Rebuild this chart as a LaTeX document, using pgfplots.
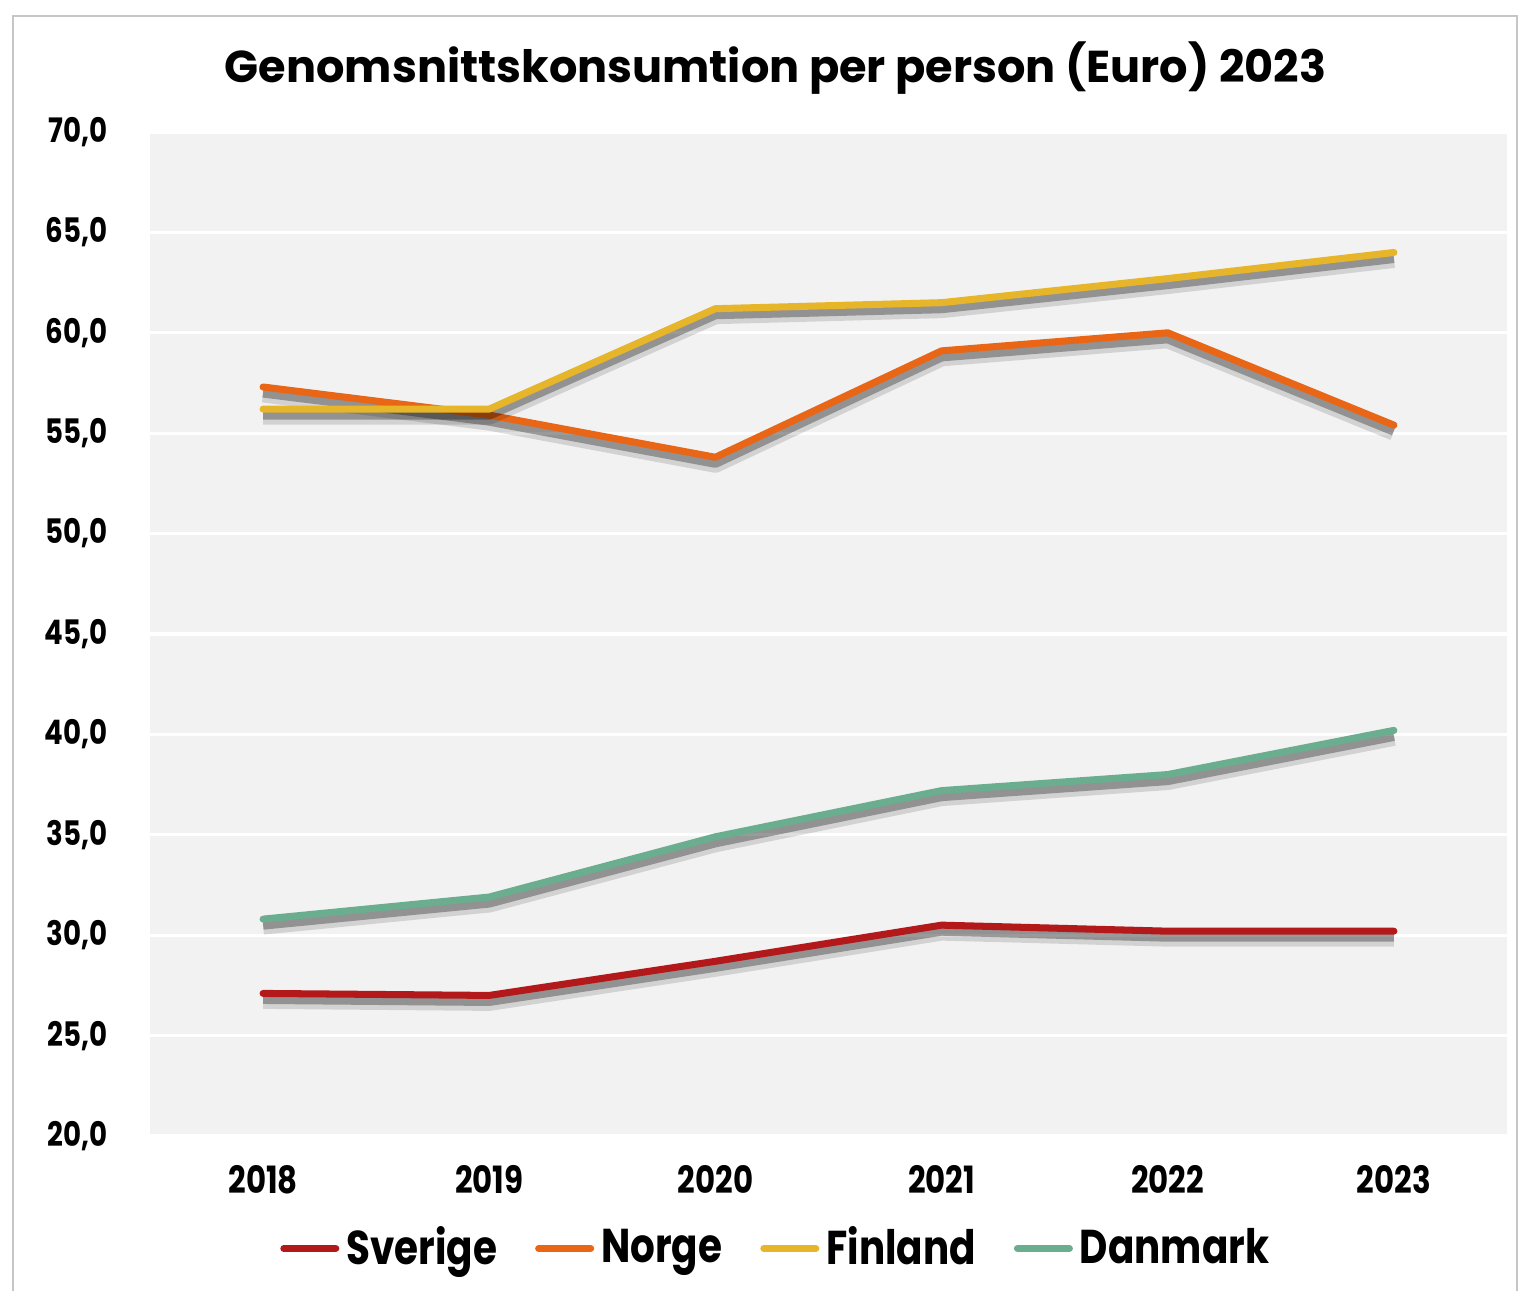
\documentclass[border=0pt]{standalone}
\usepackage{fontspec}
\setmainfont{Poppins}
\newfontfamily\condfont[FakeStretch=0.82]{Poppins}
\usepackage{pgfplots}
\pgfplotsset{compat=1.18}

\definecolor{bgray}{HTML}{F2F2F2}
\definecolor{cSverige}{HTML}{B3191A}
\definecolor{cNorge}{HTML}{E86615}
\definecolor{cFinland}{HTML}{E6B52A}
\definecolor{cDanmark}{HTML}{6AAE8F}

\pgfplotstableread{
x Sverige Norge Finland Danmark
0 27.1 57.3 56.2 30.8
1 27.0 55.9 56.2 31.9
2 28.7 53.8 61.2 34.9
3 30.5 59.1 61.5 37.2
4 30.2 60.0 62.7 38.0
5 30.2 55.4 64.0 40.2
}\datatable

\pgfplotsset{
  shadeA/.style={forget plot, black, opacity=0.13, line width=5.2pt, yshift=-1.8pt, line join=round},
  shadeB/.style={forget plot, black, opacity=0.3, line width=3pt, yshift=-1.5pt, line join=round},
  serie/.style={#1, line width=2pt, line cap=round, line join=round},
}

\begin{document}
\begin{tikzpicture}
% picture frame, 1 px = 0.01 cm, axis south west at pixel (150,1136)
\useasboundingbox (-1.50,-1.55) rectangle (13.68,11.36);
\draw[gray!45, line width=0.7pt] (-1.37,-1.70) rectangle (13.67,11.20);

\begin{axis}[
    at={(0,0)}, anchor=south west,
    scale only axis,
    width=13.57cm, height=10.04cm,
    xmin=-0.5, xmax=5.5,
    ymin=20, ymax=70,
    xtick={0,1,2,3,4,5},
    xticklabels={2018,2019,2020,2021,2022,2023},
    ytick={20,25,30,35,40,45,50,55,60,65,70},
    axis line style={draw=none},
    major tick length=0pt,
    ymajorgrids,
    grid style={white, line width=0.9pt},
    axis background/.style={fill=bgray},
    yticklabel style={
        /pgf/number format/.cd, fixed, fixed zerofill, precision=1,
        use comma, assume math mode=true,
        /tikz/.cd, font=\condfont\bfseries\fontsize{9.6}{9.6}\selectfont,
        xshift=-0.3cm},
    xticklabel style={font=\condfont\bfseries\fontsize{10.7}{10.7}\selectfont, yshift=-0.17cm},
    legend style={
        at={(0.463,-0.112)}, anchor=center,
        draw=none, fill=none,
        legend columns=-1,
        font=\condfont\bfseries\fontsize{13.5}{13.5}\selectfont,
        /tikz/every even column/.append style={column sep=0.31cm},
    },
    legend image code/.code={
        \draw[#1, line width=2pt, line cap=round] (0cm,0cm) -- (0.52cm,0cm);
    },
    legend cell align=left,
]
\addplot[shadeA] table[x=x, y=Sverige] {\datatable};
\addplot[shadeB] table[x=x, y=Sverige] {\datatable};
\addplot[serie=cSverige] table[x=x, y=Sverige] {\datatable};
\addlegendentry{Sverige}
\addplot[shadeA] table[x=x, y=Norge] {\datatable};
\addplot[shadeB] table[x=x, y=Norge] {\datatable};
\addplot[serie=cNorge] table[x=x, y=Norge] {\datatable};
\addlegendentry{Norge}
\addplot[shadeA] table[x=x, y=Finland] {\datatable};
\addplot[shadeB] table[x=x, y=Finland] {\datatable};
\addplot[serie=cFinland] table[x=x, y=Finland] {\datatable};
\addlegendentry{Finland}
\addplot[shadeA] table[x=x, y=Danmark] {\datatable};
\addplot[shadeB] table[x=x, y=Danmark] {\datatable};
\addplot[serie=cDanmark] table[x=x, y=Danmark] {\datatable};
\addlegendentry{Danmark}
\end{axis}

\node[font=\bfseries\fontsize{12.7}{12.7}\selectfont] at (6.255,10.68) {Genomsnittskonsumtion per person (Euro) 2023};
\end{tikzpicture}
\end{document}
